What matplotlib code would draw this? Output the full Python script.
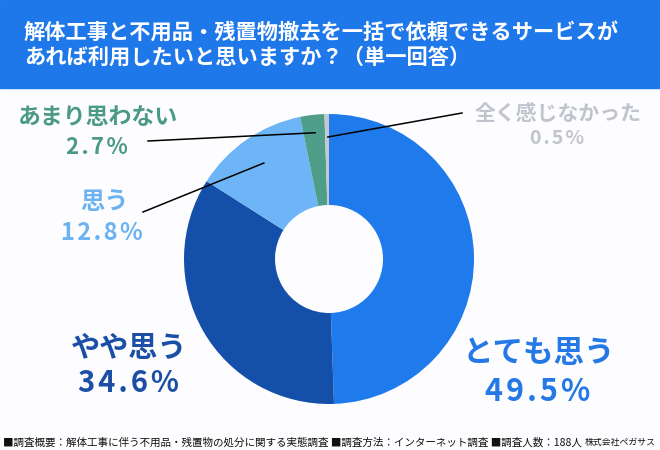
import numpy as np
import matplotlib.pyplot as plt
from matplotlib.patches import Rectangle

plt.rcParams['font.family'] = ['Noto Sans CJK JP', 'DejaVu Sans']

# data
labels = ['とても思う', 'やや思う', '思う', 'あまり思わない', '全く感じなかった']
values = [49.5, 34.6, 12.8, 2.7, 0.5]
pct_text = ['49.5%', '34.6%', '12.8%', '2.7%', '0.5%']
title = '解体工事と不用品・残置物撤去を一括で依頼できるサービスが\nあれば利用したいと思いますか？（単一回答）'
footer = ('■調査概要：解体工事に伴う不用品・残置物の処分に関する実態調査 '
          '■調査方法：インターネット調査 ■調査人数：188人')
company = '株式会社ペガサス'

wedge_colors = ['#1f7bec', '#1450aa', '#6db5f7', '#4f9e8a', '#c4c8d0']
text_colors = ['#2579e6', '#1a4fa5', '#6db3f2', '#4a9a85', '#c0c4cc']

H = 450
fig = plt.figure(figsize=(6.6, 4.5), dpi=100)
fig.patch.set_facecolor('#fdfdff')
ax = fig.add_axes([0, 0, 1, 1])

cx, cy, R = 329, H - 259, 145
ax.pie(values, colors=wedge_colors, startangle=90, counterclock=False,
       center=(cx, cy), radius=R,
       wedgeprops=dict(width=R - 54, linewidth=0))
ax.set_xlim(0, 660)
ax.set_ylim(0, H)
ax.set_aspect('auto')
ax.axis('off')

# header band
ax.add_patch(Rectangle((0, H - 88), 660, 88, color='#1f78ea', zorder=0))
ax.text(24, H - 45, title, color='white', fontsize=15.3, fontweight='bold',
        va='center', ha='left', linespacing=1.22)

# label positions (pixel layout)
name_pos = [(539, 353), (129, 348), (104, 202), (98, 118), (558, 113)]
pct_pos = [(538, 392), (128, 383), (102, 233), (97, 148), (557, 138)]
name_size = [22, 21, 17.5, 16.5, 15]
pct_size = [22, 21, 17, 16, 14]

for i in range(len(labels)):
    x, y = name_pos[i]
    ax.text(x, H - y, labels[i], color=text_colors[i], fontsize=name_size[i],
            fontweight='bold', ha='center', va='center')
    x, y = pct_pos[i]
    spaced = '\u200a'.join(pct_text[i])
    ax.text(x, H - y, spaced, color=text_colors[i], fontsize=pct_size[i],
            fontweight='bold', ha='center', va='center')

# leader lines from slice middle to the small labels
cum = np.cumsum([0] + values)
line_r = {2: 116, 3: 127, 4: 122}
line_end = {2: (143, 212), 3: (148, 141), 4: (462, 113)}
for i in line_r:
    ang = np.deg2rad(90 - (cum[i] + values[i] / 2) * 3.6)
    px = cx + line_r[i] * np.cos(ang)
    py = cy + line_r[i] * np.sin(ang)
    ex, ey = line_end[i]
    ax.plot([px, ex], [py, H - ey], color='black', lw=1.1, zorder=5)

ax.text(3, H - 443, footer, fontsize=7.6, color='#111111', ha='left', va='center')
ax.text(656, H - 443, company, fontsize=6.4, color='#111111', ha='right', va='center')

fig.savefig('out.png', dpi=100, facecolor=fig.get_facecolor())
